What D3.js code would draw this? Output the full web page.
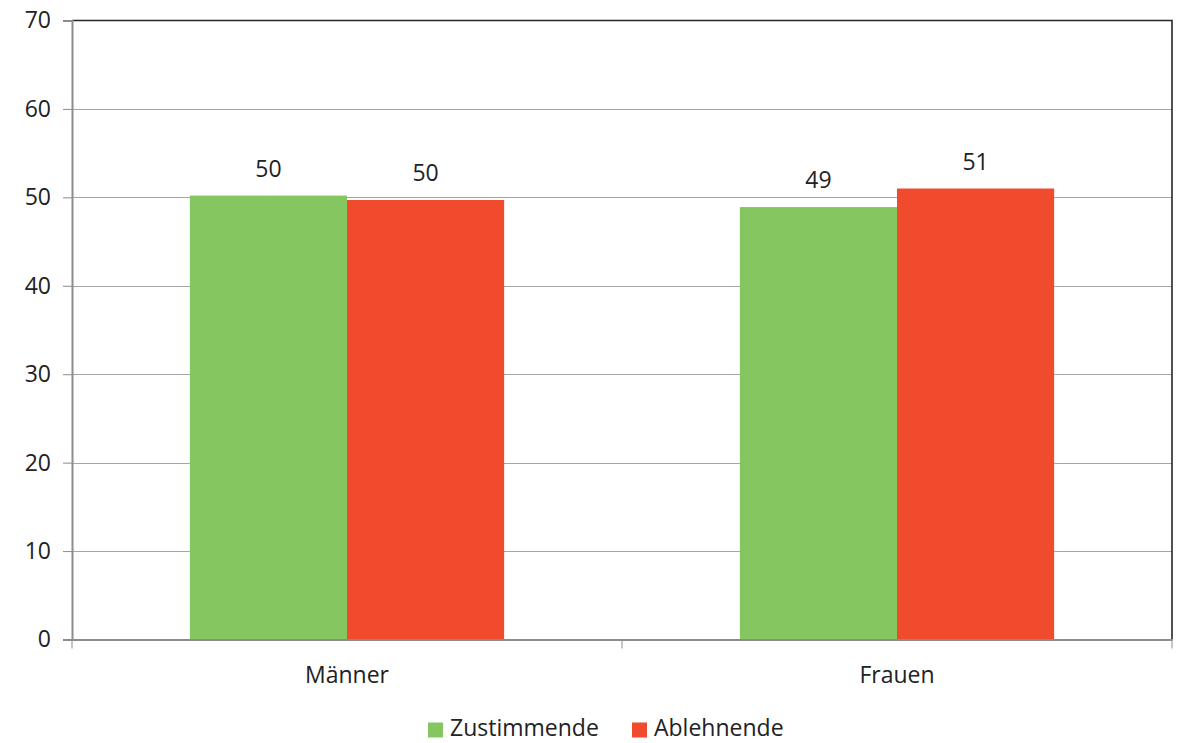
<!DOCTYPE html>
<html>
<head>
<meta charset="utf-8">
<script src="https://cdn.jsdelivr.net/npm/d3@7"></script>
<style>
  html, body { margin: 0; padding: 0; background: #fff; }
  svg { display: block; font-family: "Open Sans", "Noto Sans", sans-serif; }
</style>
</head>
<body>
<svg id="chart" width="1180" height="743"></svg>
<script>
// Survey result: share of approving vs. rejecting answers by gender (percent)
const categories = ["Männer", "Frauen"];
const seriesNames = ["Zustimmende", "Ablehnende"];
const zustimmende = [50.2, 48.9];
const ablehnende = [49.7, 51.0];
const yTicks = [0, 10, 20, 30, 40, 50, 60, 70];
const seriesColors = ["#86C661", "#F04B2C"];

const series = [zustimmende, ablehnende];
const FONT = 23;

const svg = d3.select("#chart");
const margin = { left: 72, right: 8, top: 20.5, bottom: 103.5 };
const W = 1180, H = 743;
const x0 = margin.left, x1 = W - margin.right;
const y0 = H - margin.bottom, y1 = margin.top;

const y = d3.scaleLinear().domain([0, 70]).range([y0, y1]);
const x = d3.scaleBand().domain(categories).range([x0, x1]).paddingInner(0).paddingOuter(0);
const xs = d3.scaleBand().domain(seriesNames).range([0, x.bandwidth()]).paddingInner(0).paddingOuter(0.75);

// horizontal gridlines
svg.append("g")
  .selectAll("line")
  .data(yTicks.filter(t => t > 0 && t < 70))
  .join("line")
  .attr("x1", x0).attr("x2", x1)
  .attr("y1", d => Math.round(y(d)) + 0.5).attr("y2", d => Math.round(y(d)) + 0.5)
  .attr("stroke", "#a6a6a6").attr("stroke-width", 1);

// bars
const groups = svg.append("g")
  .selectAll("g")
  .data(categories)
  .join("g")
  .attr("transform", d => `translate(${x(d)},0)`);

groups.selectAll("rect")
  .data((d, i) => series.map((s, j) => ({ name: seriesNames[j], value: s[i], color: seriesColors[j] })))
  .join("rect")
  .attr("x", d => xs(d.name))
  .attr("width", xs.bandwidth())
  .attr("y", d => y(d.value))
  .attr("height", d => y(0) - y(d.value))
  .attr("fill", d => d.color);

// value labels
groups.selectAll("text")
  .data((d, i) => series.map((s, j) => ({ name: seriesNames[j], value: s[i] })))
  .join("text")
  .attr("x", d => xs(d.name) + xs.bandwidth() / 2)
  .attr("y", d => y(d.value) - 19)
  .attr("text-anchor", "middle")
  .attr("font-size", FONT)
  .attr("fill", "#222")
  .text(d => d3.format(".0f")(d.value));

// frame: top and right in dark
svg.append("path")
  .attr("d", `M${x0},${y1}H${x1}V${y0}`)
  .attr("fill", "none").attr("stroke", "#262626").attr("stroke-width", 1.6);

// y axis
const yAxis = d3.axisLeft(y).tickValues(yTicks).tickSize(9).tickPadding(12);
const gy = svg.append("g").attr("transform", `translate(${x0},0)`).call(yAxis);
gy.select(".domain").attr("stroke", "#8c8c8c").attr("stroke-width", 2);
gy.selectAll(".tick line").attr("stroke", "#8c8c8c");
gy.selectAll(".tick text").attr("font-size", FONT).attr("fill", "#222").attr("font-family", "Open Sans, sans-serif");

// x axis
const xAxis = d3.axisBottom(x).tickSize(0).tickPadding(27);
const gx = svg.append("g").attr("transform", `translate(0,${y0})`).call(xAxis);
gx.select(".domain").attr("stroke", "#8c8c8c").attr("stroke-width", 2);
gx.selectAll(".tick text").attr("font-size", FONT).attr("fill", "#222").attr("font-family", "Open Sans, sans-serif");

// category separators on the x axis
svg.append("g")
  .selectAll("line")
  .data([x0, ...categories.map(c => x(c) + x.bandwidth())])
  .join("line")
  .attr("x1", d => d).attr("x2", d => d)
  .attr("y1", y0).attr("y2", y0 + 9)
  .attr("stroke", "#8c8c8c");

// legend
const legend = svg.append("g").attr("transform", "translate(428,730)");
const itemX = [0, 204];
seriesNames.forEach((name, i) => {
  const g = legend.append("g").attr("transform", `translate(${itemX[i]},0)`);
  g.append("rect").attr("x", 0).attr("y", -7.5).attr("width", 15).attr("height", 15).attr("fill", seriesColors[i]);
  g.append("text").attr("x", 22).attr("y", 6)
    .attr("font-size", FONT).attr("fill", "#222").text(name);
});
</script>
</body>
</html>
